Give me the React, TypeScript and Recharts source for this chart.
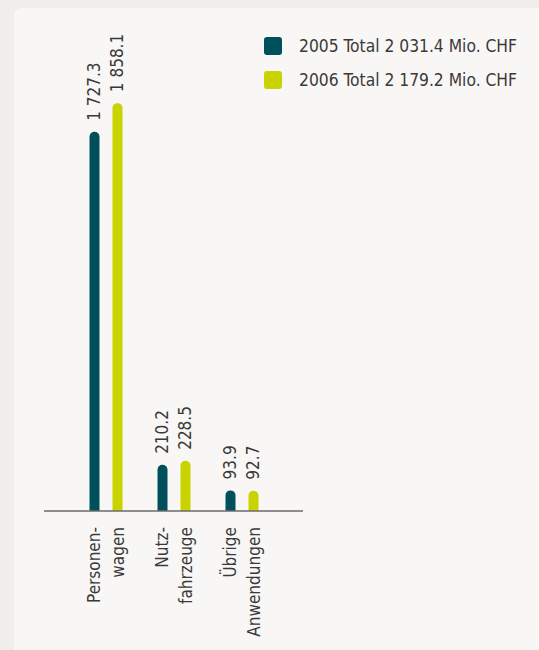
import React from "react";
import { BarChart, Bar, XAxis, YAxis, LabelList, Legend } from "recharts";

const categories = ["Personenwagen", "Nutzfahrzeuge", "Übrige Anwendungen"];
const categoryLines = [
  ["Personen-", "wagen"],
  ["Nutz-", "fahrzeuge"],
  ["Übrige", "Anwendungen"],
];
const values2005 = [1727.3, 210.2, 93.9];
const values2006 = [1858.1, 228.5, 92.7];
const seriesNames = ["2005 Total 2\u00a0031.4 Mio. CHF", "2006 Total 2\u00a0179.2 Mio. CHF"];

const COLOR_2005 = "#00505c";
const COLOR_2006 = "#c9d300";
const TEXT = "#3a3a3a";
const FONT = "'DejaVu Sans Condensed', 'DejaVu Sans', sans-serif";
const FS = 17;

const data = categories.map((c, i) => ({
  name: c,
  v2005: values2005[i],
  v2006: values2006[i],
}));

function fmt(v: number): string {
  const [int, dec] = v.toFixed(1).split(".");
  const grouped = int.replace(/\B(?=(\d{3})+(?!\d))/g, " ");
  return `${grouped}.${dec}`;
}

const textStyle = { fontStretch: "condensed" as const };

const ValueLabel = (props: any) => {
  const { x, y, width, value } = props;
  const cx = Number(x) + Number(width) / 2;
  const cy = Number(y) - 11;
  return (
    <text
      x={cx}
      y={cy}
      transform={`rotate(-90 ${cx} ${cy})`}
      textAnchor="start"
      dominantBaseline="central"
      fill={TEXT}
      fontFamily={FONT}
      fontSize={FS}
      style={textStyle}
    >
      {fmt(Number(value))}
    </text>
  );
};

const CategoryTick = (props: any) => {
  const { x, y, index } = props;
  const lines = categoryLines[index] || [];
  const ty = Number(y);
  return (
    <g>
      {lines.map((ln, i) => {
        const lx = Number(x) - 12 + i * 24;
        return (
          <text
            key={i}
            x={lx}
            y={ty}
            transform={`rotate(-90 ${lx} ${ty})`}
            textAnchor="end"
            dominantBaseline="central"
            fill={TEXT}
            fontFamily={FONT}
            fontSize={FS}
            style={textStyle}
          >
            {ln}
          </text>
        );
      })}
    </g>
  );
};

const LegendContent = (props: any) => {
  const payload = props.payload || [];
  return (
    <div style={{ display: "flex", flexDirection: "column", gap: 16 }}>
      {payload.map((p: any, i: number) => (
        <div key={i} style={{ display: "flex", alignItems: "center", height: 18 }}>
          <div
            style={{
              width: 18,
              height: 18,
              borderRadius: 3,
              background: p.color,
              flex: "0 0 auto",
            }}
          />
          <span
            style={{
              marginLeft: 17,
              fontFamily: FONT,
              fontStretch: "condensed",
              fontSize: 17.3,
              color: TEXT,
              whiteSpace: "nowrap",
              lineHeight: "18px",
            }}
          >
            {p.value}
          </span>
        </div>
      ))}
    </div>
  );
};

export default function App() {
  return (
    <div
      style={{
        position: "absolute",
        left: 0,
        top: 0,
        width: 539,
        height: 650,
        background: "#efeeec",
        overflow: "hidden",
      }}
    >
      <div
        style={{
          position: "absolute",
          left: 14,
          top: 8,
          width: 525,
          height: 642,
          background: "#f8f7f5",
          borderTopLeftRadius: 8,
        }}
      >
        <BarChart
          width={525}
          height={642}
          data={data}
          margin={{ top: 64, right: 236, bottom: 19, left: 30 }}
          barSize={10}
          barGap={13}
        >
          <XAxis
            dataKey="name"
            height={120}
            axisLine={{ stroke: "#6a6a6a", strokeWidth: 1.5 }}
            tickLine={false}
            tickSize={0}
            tickMargin={16}
            padding={{ left: 27.5, right: 27.5 }}
            tick={<CategoryTick />}
            interval={0}
          />
          <YAxis hide domain={[0, 2000]} />
          <Legend
            layout="vertical"
            align="center"
            verticalAlign="middle"
            wrapperStyle={{ top: 29, left: 250, width: 270 }}
            content={<LegendContent />}
          />
          <Bar
            dataKey="v2005"
            name={seriesNames[0]}
            fill={COLOR_2005}
            radius={[5, 5, 0, 0]}
            isAnimationActive={false}
          >
            <LabelList dataKey="v2005" content={<ValueLabel />} />
          </Bar>
          <Bar
            dataKey="v2006"
            name={seriesNames[1]}
            fill={COLOR_2006}
            radius={[5, 5, 0, 0]}
            isAnimationActive={false}
          >
            <LabelList dataKey="v2006" content={<ValueLabel />} />
          </Bar>
        </BarChart>
      </div>
    </div>
  );
}
